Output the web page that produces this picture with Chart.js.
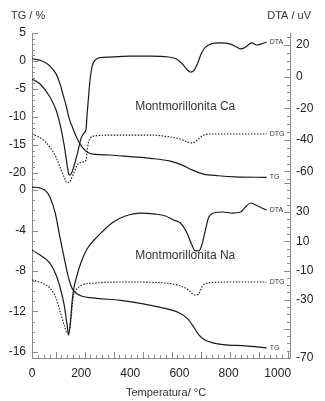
<!DOCTYPE html>
<html><head><meta charset="utf-8">
<script src="https://cdn.jsdelivr.net/npm/chart.js@4.4.0/dist/chart.umd.min.js"></script>
<style>html,body{margin:0;padding:0;background:#fff;}canvas{display:block;}</style>
</head><body>
<canvas id="c" width="325" height="401"></canvas>
<script>
// ---- tick labels ----
const tempTicks = [0, 200, 400, 600, 800, 1000];
const tgUpTicks = [5, 0, -5, -10, -15, -20];
const tgLowTicks = [0, -4, -8, -12, -16];
const dtaUpTicks = [20, 0, -20, -40, -60];
const dtaLowTicks = [30, 10, -10, -30, -70];

// ---- Montmorillonita Ca (upper panel) ----
const caTG_T = [0,41,73,98,114,127,139,151,167,184,204,229,257,318,400,482,563,612,653,698,759,829,955];
const caTG_V = [0.4,0.0,-0.9,-2.3,-4.1,-6.1,-8.0,-10.2,-12.1,-13.9,-15.4,-16.4,-16.7,-16.8,-17.1,-17.4,-17.9,-18.6,-19.5,-20.2,-20.5,-20.7,-20.8];
const caDTA_T = [0,33,73,98,114,131,143,151,159,171,188,200,212,220,224,229,237,245,257,278,318,400,482,555,588,612,633,645,657,673,690,706,727,767,808,833,849,869,894,914,931,955];
const caDTA_V = [-1.5,-4.7,-12.9,-21.1,-30.0,-43.3,-55.9,-62.3,-61.6,-56.6,-46.5,-38.9,-35.7,-33.2,-24.3,-14.8,-0.9,6.7,10.5,12.1,12.4,13.0,13.0,12.4,11.2,8.0,4.2,2.9,3.5,8.0,15.0,18.7,20.6,21.3,20.6,18.7,17.5,18.7,21.3,20.0,20.6,21.9];
const caDTG_T = [0,41,73,98,114,131,143,155,167,180,192,208,220,224,229,237,253,318,482,563,604,633,653,673,694,727,849,955];
const caDTG_V = [-36.3,-39.5,-44.6,-50.9,-57.2,-63.5,-67.3,-66.1,-62.3,-57.2,-54.7,-54.0,-52.8,-47.7,-42.0,-38.9,-37.6,-37.0,-37.0,-38.2,-39.5,-41.4,-42.0,-40.1,-37.3,-36.3,-36.3,-36.3];

// ---- Montmorillonita Na (lower panel) ----
const naTG_T = [0,33,57,73,94,114,131,147,163,180,204,265,359,441,522,596,633,657,678,702,735,788,869,955];
const naTG_V = [0.3,0.2,-0.1,-0.7,-2.2,-4.7,-6.7,-8.5,-9.7,-10.2,-10.5,-10.7,-10.9,-11.2,-11.6,-12.1,-12.7,-13.5,-14.3,-14.8,-15.1,-15.3,-15.4,-15.6];
const naDTA_T = [0,33,73,98,114,131,143,149,157,163,169,180,196,224,265,331,380,441,502,543,576,604,629,649,665,678,690,706,718,739,776,816,849,869,890,910,935,955];
const naDTA_V = [4.0,0.6,-4.9,-13.1,-21.3,-33.7,-47.4,-54.3,-44.0,-31.6,-23.4,-15.2,-6.2,4.7,13.0,23.3,27.4,29.4,28.7,27.4,24.6,22.6,16.4,8.2,3.4,3.4,6.8,17.8,26.0,29.4,30.1,29.4,30.1,33.5,36.3,34.9,32.9,31.5];
const naDTG_T = [0,41,73,98,114,131,143,151,159,167,180,204,257,400,543,604,637,661,678,694,714,808,955];
const naDTG_V = [-16.5,-18.6,-22.0,-28.9,-37.8,-47.4,-52.9,-52.2,-42.6,-28.9,-23.4,-20.0,-18.6,-17.9,-18.6,-20.6,-23.4,-26.8,-26.1,-20.6,-18.6,-17.9,-17.9];

const FONT = '"Liberation Sans", Arial, sans-serif';
const INK = '#1a1a1a';
const AXIS = '#8a8a8a';

function pts(T, V) { return T.map((t, i) => ({ x: t, y: V[i] })); }
function line(label, T, V, axis, dotted) {
  return {
    label, data: pts(T, V), yAxisID: axis,
    borderColor: INK, borderWidth: dotted ? 1.1 : 1.2,
    borderDash: dotted ? [1.5, 1.5] : [],
    pointRadius: 0, cubicInterpolationMode: 'monotone', fill: false
  };
}
function fixedTicks(arr) { return s => { s.ticks = arr.map(v => ({ value: v })); }; }
function yAxis(pos, stack, weight, min, max, tickArr, width) {
  return {
    type: 'linear', position: pos, stack, stackWeight: weight, min, max,
    afterBuildTicks: fixedTicks(tickArr),
    afterFit: s => { s.width = width; },
    grid: { display: false, drawTicks: false },
    border: { display: true, color: AXIS, width: 1 },
    ticks: { autoSkip: false, padding: 6, color: '#222', font: { family: FONT, size: 12 }, callback: v => String(v) }
  };
}

// inward tick marks and texts
const deco = {
  id: 'deco',
  afterDraw(chart) {
    const ctx = chart.ctx, s = chart.scales;
    ctx.save();
    ctx.strokeStyle = AXIS; ctx.lineWidth = 1;
    function yTicks(sc, minor, major, anchor, dir) {
      const x0 = dir > 0 ? sc.right : sc.left;
      const k0 = Math.ceil((sc.min - anchor) / minor - 1e-9), k1 = Math.floor((sc.max - anchor) / minor + 1e-9);
      for (let k = k0; k <= k1; k++) {
        const v = anchor + k * minor;
        const isMaj = Math.abs((v - anchor) / major - Math.round((v - anchor) / major)) < 1e-6;
        const y = Math.round(sc.getPixelForValue(v)) + 0.5;
        ctx.beginPath(); ctx.moveTo(x0, y); ctx.lineTo(x0 + dir * (isMaj ? 6 : 3), y); ctx.stroke();
      }
    }
    yTicks(s.tgUp, 1, 5, 0, 1);
    yTicks(s.tgLow, 1, 4, 0, 1);
    yTicks(s.dtaUp, 5, 20, 0, -1);
    yTicks(s.dtaLow, 5, 20, 30, -1);
    // x ticks
    const xs = s.x, yb = xs.top;
    for (let k = 0; ; k++) {
      const v = 1.6 + k * 23.6;
      if (v > xs.max) break;
      const x = Math.round(xs.getPixelForValue(v)) + 0.5;
      ctx.beginPath(); ctx.moveTo(x, yb); ctx.lineTo(x, yb - (k % 5 === 4 ? 6 : 3)); ctx.stroke();
    }
    // titles
    ctx.fillStyle = '#333';
    ctx.font = '11px ' + FONT;
    ctx.textBaseline = 'middle';
    ctx.textAlign = 'left';
    ctx.fillText('TG / %', 11, 16);
    ctx.textAlign = 'right';
    ctx.fillText('DTA / uV', 311, 16);
    ctx.textAlign = 'center';
    ctx.fillText('Temperatura/ °C', 166, 393);
    ctx.font = '12px ' + FONT;
    ctx.textAlign = 'left';
    ctx.fillText('Montmorillonita Ca', xs.getPixelForValue(420), s.tgUp.getPixelForValue(-8.2));
    ctx.fillText('Montmorillonita Na', xs.getPixelForValue(420), s.tgLow.getPixelForValue(-6.5));
    // curve end labels
    ctx.font = '7px ' + FONT;
    ctx.fillStyle = '#333';
    chart.data.datasets.forEach((ds, i) => {
      const meta = chart.getDatasetMeta(i);
      const p = meta.data[meta.data.length - 1];
      ctx.fillText(ds.label, p.x + 3, p.y);
    });
    ctx.restore();
  }
};

new Chart(document.getElementById('c'), {
  type: 'line',
  data: {
    datasets: [
      line('TG', caTG_T, caTG_V, 'tgUp', false),
      line('DTA', caDTA_T, caDTA_V, 'dtaUp', false),
      line('DTG', caDTG_T, caDTG_V, 'dtaUp', true),
      line('TG', naTG_T, naTG_V, 'tgLow', false),
      line('DTA', naDTA_T, naDTA_V, 'dtaLow', false),
      line('DTG', naDTG_T, naDTG_V, 'dtaLow', true)
    ]
  },
  options: {
    responsive: false, animation: false, devicePixelRatio: 1,
    layout: { padding: { top: 33, left: 0, right: 0, bottom: 0 } },
    plugins: { legend: { display: false }, tooltip: { enabled: false }, title: { display: false } },
    scales: {
      x: {
        type: 'linear', position: 'bottom', min: 0, max: 1050,
        afterBuildTicks: fixedTicks(tempTicks),
        afterFit: s => { s.height = 43; },
        grid: { display: false, drawTicks: false },
        border: { display: true, color: AXIS, width: 1 },
        ticks: { autoSkip: false, maxRotation: 0, padding: 8, color: '#222', font: { family: FONT, size: 12 }, callback: v => String(v) }
      },
      tgLow: yAxis('left', 'L', 175, -16.6, 0.7, tgLowTicks, 32),
      tgUp: yAxis('left', 'L', 150, -21.8, 5, tgUpTicks, 32),
      dtaUp: yAxis('right', 'R', 150, -67.3, 27.6, dtaUpTicks, 35),
      dtaLow: yAxis('right', 'R', 175, -70, 50, dtaLowTicks, 35)
    }
  },
  plugins: [deco]
});
</script>
</body></html>
